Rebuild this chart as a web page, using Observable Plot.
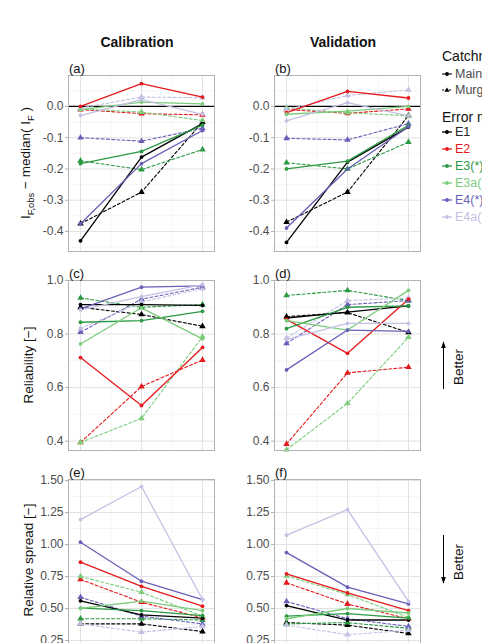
<!DOCTYPE html>
<html>
<head>
<meta charset="utf-8">
<script src="https://cdn.jsdelivr.net/npm/d3@7"></script>
<script src="https://cdn.jsdelivr.net/npm/@observablehq/plot@0.6"></script>
<style>
  html, body { margin: 0; padding: 0; background: #fff; }
  #fig { position: relative; width: 482px; height: 643px; overflow: hidden; background: #fff;
         font-family: "Liberation Sans", Arial, Helvetica, sans-serif; }
  .abs { position: absolute; }
  .title { font-weight: bold; font-size: 14px; color: #111; transform: translate(-50%, -50%); white-space: nowrap; }
  .plab { font-size: 13px; color: #111; transform: translate(0, -50%); white-space: nowrap; }
  .ytitle { font-size: 13.5px; color: #111; transform: translate(-50%, -50%) rotate(-90deg); white-space: nowrap; }
  .ytitle sub { font-size: 70%; vertical-align: -0.35em; }
</style>
</head>
<body>
<div id="fig"></div>
<script>
// ---------- data ----------
const steps = [1, 2, 3];
const models = ["E1", "E2", "E3", "E3a", "E4", "E4a"];
const legendLabels = ["E1", "E2", "E3(*)", "E3a(*)", "E4(*)", "E4a(*)"];
const modelColors = ["#000000", "#e41a1c", "#2b9a43", "#7ccc7c", "#6a5fb8", "#c3c1e3"];
const catchments = ["Main", "Murg"];
const columnTitles = ["Calibration", "Validation"];
const panelLabels = ["(a)", "(b)", "(c)", "(d)", "(e)", "(f)"];

const devTicks = [-0.4, -0.3, -0.2, -0.1, 0.0];
const relTicks = [0.4, 0.6, 0.8, 1.0];
const sprTicks = [0.25, 0.5, 0.75, 1.0, 1.25, 1.5];

// rows: E1, E2, E3, E3a, E4, E4a ; columns: steps 1..3
const devCalMain = [
  [-0.430, -0.162, -0.055],
  [0.000, 0.073, 0.030],
  [-0.183, -0.144, -0.060],
  [-0.010, 0.014, 0.008],
  [-0.375, -0.183, -0.077],
  [-0.029, 0.022, -0.025]
];
const devCalMurg = [
  [-0.375, -0.274, -0.050],
  [-0.010, -0.023, -0.027],
  [-0.174, -0.202, -0.138],
  [-0.008, -0.018, -0.045],
  [-0.100, -0.111, -0.070],
  [-0.005, 0.030, 0.028]
];
const devValMain = [
  [-0.435, -0.178, -0.066],
  [-0.020, 0.048, 0.027],
  [-0.200, -0.175, -0.060],
  [-0.025, -0.015, 0.000],
  [-0.389, -0.200, -0.065],
  [-0.046, 0.012, -0.030]
];
const devValMurg = [
  [-0.370, -0.274, -0.029],
  [-0.010, -0.022, -0.008],
  [-0.180, -0.200, -0.114],
  [-0.005, -0.020, -0.030],
  [-0.102, -0.107, -0.055],
  [-0.010, 0.035, 0.053]
];
const relCalMain = [
  [0.910, 0.910, 0.907],
  [0.712, 0.533, 0.750],
  [0.844, 0.850, 0.885],
  [0.763, 0.898, 0.782],
  [0.894, 0.975, 0.980],
  [0.890, 0.940, 0.985]
];
const relCalMurg = [
  [0.900, 0.873, 0.829],
  [0.395, 0.604, 0.703],
  [0.935, 0.900, 0.910],
  [0.395, 0.485, 0.790],
  [0.807, 0.930, 0.975],
  [0.820, 0.920, 0.970]
];
const relValMain = [
  [0.860, 0.882, 0.905],
  [0.855, 0.728, 0.930],
  [0.820, 0.900, 0.905],
  [0.850, 0.815, 0.963],
  [0.666, 0.815, 0.810],
  [0.780, 0.840, 0.840]
];
const relValMurg = [
  [0.865, 0.880, 0.806],
  [0.389, 0.655, 0.676],
  [0.944, 0.963, 0.925],
  [0.368, 0.541, 0.788],
  [0.765, 0.910, 0.925],
  [0.785, 0.925, 0.935]
];
const sprCalMain = [
  [0.560, 0.450, 0.425],
  [0.862, 0.673, 0.518],
  [0.503, 0.484, 0.445],
  [0.500, 0.557, 0.484],
  [1.018, 0.713, 0.570],
  [1.195, 1.453, 0.570]
];
const sprCalMurg = [
  [0.380, 0.380, 0.320],
  [0.727, 0.549, 0.427],
  [0.420, 0.420, 0.410],
  [0.750, 0.627, 0.440],
  [0.588, 0.440, 0.380],
  [0.380, 0.315, 0.360]
];
const sprValMain = [
  [0.523, 0.410, 0.410],
  [0.771, 0.622, 0.484],
  [0.440, 0.460, 0.425],
  [0.420, 0.500, 0.465],
  [0.937, 0.667, 0.536],
  [1.073, 1.273, 0.555]
];
const sprValMurg = [
  [0.390, 0.370, 0.305],
  [0.701, 0.535, 0.420],
  [0.380, 0.390, 0.345],
  [0.755, 0.610, 0.430],
  [0.555, 0.420, 0.360],
  [0.370, 0.295, 0.330]
];

// ---------- helpers ----------
const fig = document.getElementById("fig");
function rowsOf(matrix, catchment) {
  const out = [];
  matrix.forEach((vals, i) => vals.forEach((v, j) => out.push({ x: steps[j], y: v, model: models[i], catchment })));
  return out;
}
function place(el, left, top) {
  el.style.position = "absolute"; el.style.left = left + "px"; el.style.top = top + "px";
  fig.appendChild(el);
}
function addText(cls, html, left, top) {
  const d = document.createElement("div");
  d.className = "abs " + cls; d.innerHTML = html;
  d.style.left = left + "px"; d.style.top = top + "px";
  fig.appendChild(d);
}

const ML = 40, MR = 2, MT = 2, MB = 2, FW = 146;
const colLeft = [68, 274];
const rowGeom = [
  { top: 75, h: 176, domain: [-0.464, 0.099], ticks: devTicks, minor: d3.range(-0.45, 0.1, 0.1), fmt: d => d.toFixed(1), zero: true },
  { top: 280, h: 170, domain: [0.365, 1.0], ticks: relTicks, minor: [0.5, 0.7, 0.9], fmt: d => d.toFixed(1), zero: false },
  { top: 479, h: 172, domain: [0.164, 1.508], ticks: sprTicks, minor: [0.375, 0.625, 0.875, 1.125, 1.375], fmt: d => d.toFixed(2), zero: false }
];
const panels = [
  [[devCalMain, devCalMurg], [devValMain, devValMurg]],
  [[relCalMain, relCalMurg], [relValMain, relValMurg]],
  [[sprCalMain, sprCalMurg], [sprValMain, sprValMurg]]
];

panels.forEach((row, r) => {
  const g = rowGeom[r];
  row.forEach(([mainM, murgM], c) => {
    const main = rowsOf(mainM, "Main");
    const murg = rowsOf(murgM, "Murg");
    const marks = [
      Plot.gridX([1.5, 2.5], { stroke: "#efefef", strokeOpacity: 1, strokeWidth: 0.6 }),
      Plot.gridY(g.minor, { stroke: "#efefef", strokeOpacity: 1, strokeWidth: 0.6 }),
      Plot.gridX(steps, { stroke: "#e2e2e2", strokeOpacity: 1, strokeWidth: 1 }),
      Plot.gridY(g.ticks, { stroke: "#e2e2e2", strokeOpacity: 1, strokeWidth: 1 })
    ];
    if (g.zero) marks.push(Plot.ruleY([0], { stroke: "#000", strokeWidth: 1.3 }));
    marks.push(
      Plot.line(murg, { x: "x", y: "y", z: "model", stroke: "model", strokeWidth: 1.1, strokeDasharray: "3,2.2" }),
      Plot.line(main, { x: "x", y: "y", z: "model", stroke: "model", strokeWidth: 1.3 }),
      Plot.dot(murg, { x: "x", y: "y", fill: "model", symbol: "triangle", r: 2.4 }),
      Plot.dot(main, { x: "x", y: "y", fill: "model", symbol: "circle", r: 1.9 }),
      Plot.frame({ stroke: "#b3b3b3", strokeWidth: 1 }),
      Plot.axisY({ ticks: g.ticks, tickFormat: g.fmt, tickSize: 3, tickPadding: 2, stroke: "#b3b3b3", fill: "#4d4d4d", fontSize: 12, label: null })
    );
    const chart = Plot.plot({
      width: ML + FW + MR, height: g.h + MT + MB,
      marginLeft: ML, marginRight: MR, marginTop: MT, marginBottom: MB,
      style: { fontFamily: '"Liberation Sans", Arial, sans-serif', background: "transparent", overflow: "visible" },
      x: { domain: [0.803, 3.197], axis: null },
      y: { domain: g.domain, axis: null },
      color: { domain: models, range: modelColors },
      marks
    });
    place(chart, colLeft[c] - ML, g.top - MT);
    addText("plab", panelLabels[r * 2 + c], colLeft[c] + 1, g.top - 7);
  });
});

// column titles
addText("title", columnTitles[0], 137, 42);
addText("title", columnTitles[1], 343, 42);

// y titles
addText("ytitle", "I<sub>F,obs</sub> − median( I<sub>F</sub> )", 27, 163);
addText("ytitle", "Reliability [−]", 28, 365);
addText("ytitle", "Relative spread [−]", 28, 560);

// legend + "Better" annotations
const ns = "http://www.w3.org/2000/svg";
const ov = document.createElementNS(ns, "svg");
ov.setAttribute("width", 482); ov.setAttribute("height", 643);
ov.style.position = "absolute"; ov.style.left = "0px"; ov.style.top = "0px";
ov.style.fontFamily = '"Liberation Sans", Arial, sans-serif';
fig.appendChild(ov);
function el(tag, attrs, text) {
  const e = document.createElementNS(ns, tag);
  for (const k in attrs) if (attrs[k] != null) e.setAttribute(k, attrs[k]);
  if (text != null) e.textContent = text;
  ov.appendChild(e); return e;
}
el("text", { x: 442, y: 56, "dominant-baseline": "central", "font-size": 14, fill: "#111" }, "Catchment");
catchments.forEach((cname, i) => {
  const y = 74 + i * 16;
  el("line", { x1: 442, x2: 452, y1: y, y2: y, stroke: "#000", "stroke-width": 1.1, "stroke-dasharray": i ? "2,1.5" : null });
  if (i === 0) el("circle", { cx: 447, cy: y, r: 1.9, fill: "#000" });
  else el("path", { d: `M447,${y - 2.6}L449.6,${y + 1.8}L444.4,${y + 1.8}Z`, fill: "#000" });
  el("text", { x: 455, y, "dominant-baseline": "central", "font-size": 12.5, fill: "#4d4d4d" }, cname);
});
el("text", { x: 442, y: 117, "dominant-baseline": "central", "font-size": 14, fill: "#111" }, "Error model");
models.forEach((m, i) => {
  const y = 132 + i * 17;
  el("line", { x1: 442, x2: 452, y1: y, y2: y, stroke: modelColors[i], "stroke-width": 1.3 });
  el("circle", { cx: 447, cy: y, r: 1.9, fill: modelColors[i] });
  el("text", { x: 455, y, "dominant-baseline": "central", "font-size": 12.5, fill: modelColors[i] === "#000000" ? "#222" : modelColors[i] }, legendLabels[i]);
});
// arrows
el("defs", {}).innerHTML = '<marker id="ah" viewBox="0 0 10 10" refX="9" refY="5" markerWidth="7" markerHeight="7" orient="auto-start-reverse"><path d="M0,1.5L10,5L0,8.5Z" fill="#000"/></marker>';
el("line", { x1: 443.5, x2: 443.5, y1: 389, y2: 342, stroke: "#000", "stroke-width": 1, "marker-end": "url(#ah)" });
el("line", { x1: 443.5, x2: 443.5, y1: 535, y2: 583, stroke: "#000", "stroke-width": 1, "marker-end": "url(#ah)" });
el("text", { x: 0, y: 0, transform: "translate(458,367) rotate(-90)", "text-anchor": "middle", "dominant-baseline": "central", "font-size": 13.5, fill: "#111" }, "Better");
el("text", { x: 0, y: 0, transform: "translate(458,562) rotate(-90)", "text-anchor": "middle", "dominant-baseline": "central", "font-size": 13.5, fill: "#111" }, "Better");
</script>
</body>
</html>
